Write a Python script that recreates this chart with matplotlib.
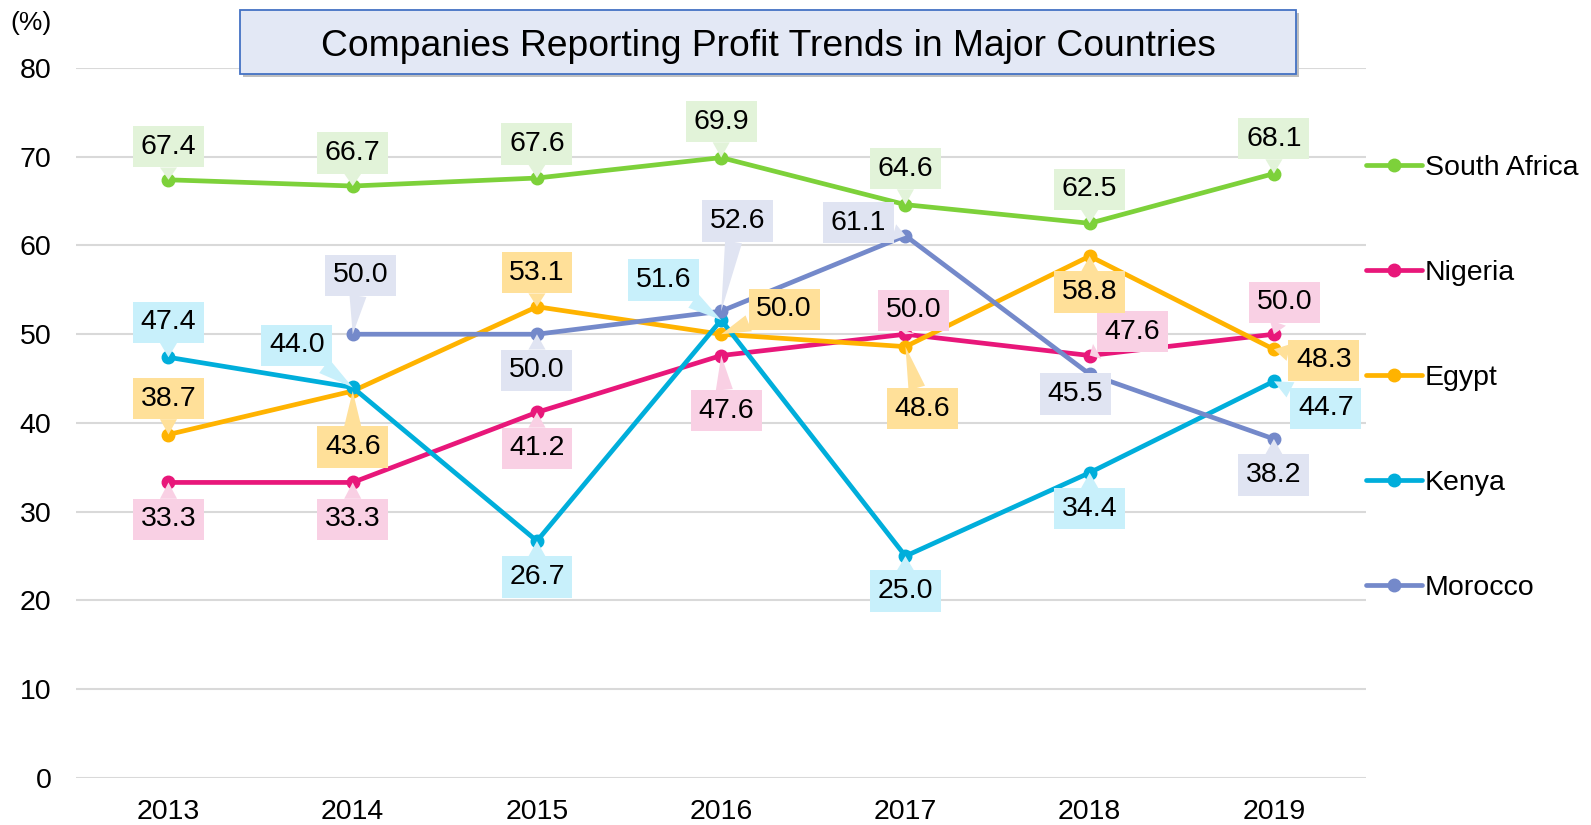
import matplotlib
matplotlib.use("Agg")
import matplotlib.pyplot as plt
from matplotlib.patches import FancyBboxPatch
import numpy as np

plt.rcParams['font.family'] = ['Liberation Sans', 'DejaVu Sans']

years = ["2013", "2014", "2015", "2016", "2017", "2018", "2019"]
south_africa = [67.4, 66.7, 67.6, 69.9, 64.6, 62.5, 68.1]
nigeria = [33.3, 33.3, 41.2, 47.6, 50.0, 47.6, 50.0]
egypt = [38.7, 43.6, 53.1, 50.0, 48.6, 58.8, 48.3]
kenya = [47.4, 44.0, 26.7, 51.6, 25.0, 34.4, 44.7]
morocco = [None, 50.0, 50.0, 52.6, 61.1, 45.5, 38.2]

series_names = ["South Africa", "Nigeria", "Egypt", "Kenya", "Morocco"]
series_values = [south_africa, nigeria, egypt, kenya, morocco]
line_colors = ["#7DD13A", "#E8177A", "#FFB300", "#00AEDB", "#7489CA"]
box_colors = ["#E2F3D9", "#F9D0E4", "#FFE099", "#C8F0FB", "#E0E4F2"]

# label offsets (pixels) relative to each point
offsets = [
    [(0, 33), (0, 33), (0, 34), (0, 36), (0, 36), (0, 34), (0, 35)],
    [(0, -37), (0, -37), (0, -36), (5, -55), (8, 24), (43, 24), (11, 32)],
    [(0, 36), (0, -56), (0, 34), (63, 25), (17, -62), (0, -36), (50, -11)],
    [(0, 35), (-56, 42), (0, -36), (-58, 40), (0, -35), (0, -36), (52, -27)],
    [None, (8, 59), (0, -36), (16, 90), (-47, 13), (-14, -20), (0, -36)],
]

fig = plt.figure(figsize=(15.91, 8.25), dpi=100)
ax = fig.add_axes([0.048, 0.057, 0.8106, 0.8606])

x = np.arange(len(years))
for name, vals, lc, bc, offs in zip(series_names, series_values, line_colors, box_colors, offsets):
    xs = [xi for xi, v in zip(x, vals) if v is not None]
    ys = [v for v in vals if v is not None]
    ax.plot(xs, ys, color=lc, lw=3.4, marker='o', markersize=9, label=name, zorder=3,
            solid_capstyle='round')
    for xi, v, off in zip(x, vals, offs):
        if v is None:
            continue
        ax.annotate(f"{v:.1f}", xy=(xi, v), xytext=off, textcoords='offset pixels',
                    ha='center', va='center', fontsize=20.5, color='black', zorder=5,
                    bbox=dict(boxstyle='square,pad=0.27', fc=bc, ec='none'),
                    arrowprops=dict(arrowstyle='wedge,tail_width=0.6', fc=bc, ec='none',
                                    shrinkA=0, shrinkB=0))

ax.set_xlim(-0.5, 6.5)
ax.set_ylim(0, 80)
ax.set_xticks(x)
ax.set_xticklabels(years, fontsize=20.5)
ax.set_yticks(np.arange(0, 81, 10))
ax.tick_params(axis='y', labelsize=20.5, length=0, pad=18)
ax.tick_params(axis='x', length=0, pad=15)
ax.grid(axis='y', color='#D9D9D9', lw=1.5)
ax.set_axisbelow(True)
for s in ax.spines.values():
    s.set_visible(False)

leg = ax.legend(loc='upper left', bbox_to_anchor=(1.0, 0.878), frameon=False,
                fontsize=20.5, handlelength=1.95, handletextpad=0.12, labelspacing=2.78,
                borderaxespad=0, borderpad=0)

fig.text(31 / 1591, 1 - 23 / 825, "(%)", fontsize=19, ha='center', va='center')

# title box
bx0, bx1 = 240 / 1591, 1296 / 1591
by0, by1 = 1 - 74 / 825, 1 - 10 / 825
shadow = FancyBboxPatch((bx0 + 0.002, by0 - 0.004), bx1 - bx0, by1 - by0,
                        boxstyle='square,pad=0', transform=fig.transFigure,
                        fc='#BFBFBF', ec='none', zorder=1)
box = FancyBboxPatch((bx0, by0), bx1 - bx0, by1 - by0, boxstyle='square,pad=0',
                     transform=fig.transFigure, fc='#E3E8F5', ec='#4472C4', lw=1.3, zorder=2)
fig.patches.extend([shadow, box])
fig.text((bx0 + bx1) / 2, (by0 + by1) / 2 - 4 / 825, "Companies Reporting Profit Trends in Major Countries",
         fontsize=26.8, ha='center', va='center', zorder=3)

fig.savefig("out.png", dpi=100)
